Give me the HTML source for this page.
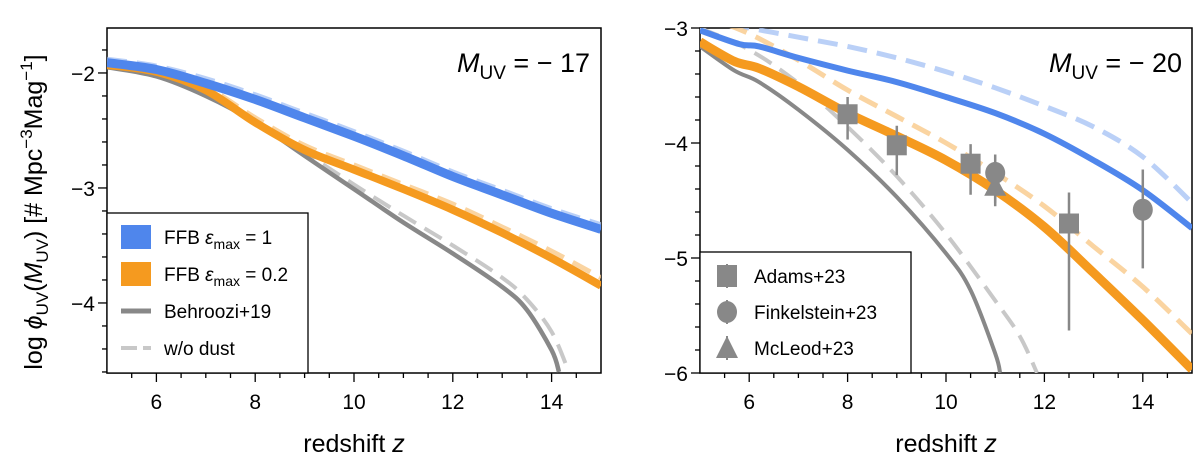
<!DOCTYPE html>
<html><head><meta charset="utf-8">
<style>
body{margin:0;background:#fff;}
svg{display:block;font-family:"Liberation Sans","DejaVu Sans",sans-serif;}
</style></head>
<body>
<svg id="fig" width="1200" height="464" viewBox="0 0 1200 464" xmlns="http://www.w3.org/2000/svg"></svg>
<script>
// ---- data ----
const zL = [5, 6, 7, 8, 9, 10, 11, 12, 13, 14, 15];
const leftBlue = [-1.91, -1.97, -2.09, -2.23, -2.39, -2.55, -2.72, -2.90, -3.06, -3.22, -3.36];
const leftBlueDash = [-1.88, -1.94, -2.05, -2.19, -2.35, -2.51, -2.68, -2.86, -3.02, -3.18, -3.32];
const leftOrange = [-1.93, -1.99, -2.15, -2.43, -2.67, -2.84, -3.01, -3.19, -3.39, -3.61, -3.85];
const leftOrangeDash = [-1.91, -1.97, -2.12, -2.39, -2.63, -2.80, -2.97, -3.14, -3.34, -3.55, -3.78];
const zLg = [5, 6, 7, 8, 9, 10, 11, 12, 13, 13.5, 14, 14.15];
const leftGray = [-1.95, -2.03, -2.20, -2.43, -2.72, -3.01, -3.30, -3.57, -3.86, -4.06, -4.41, -4.6];
const zLgd = [5, 6, 7, 8, 9, 10, 11, 12, 13, 13.5, 14, 14.35];
const leftGrayDash = [-1.94, -2.02, -2.18, -2.41, -2.69, -2.97, -3.24, -3.50, -3.78, -3.97, -4.25, -4.6];

const zR = [5, 5.8, 6.2, 7, 8, 9, 10, 11, 12, 13, 14, 15];
const rightBlue = [-3.02, -3.14, -3.16, -3.26, -3.37, -3.47, -3.60, -3.74, -3.92, -4.15, -4.41, -4.74];
const zRbd = [5, 6, 7, 8, 9, 10, 11, 12, 13, 14, 15];
const rightBlueDash = [-2.92, -3.0, -3.08, -3.16, -3.26, -3.38, -3.52, -3.68, -3.86, -4.12, -4.52];
const zRo = [5, 5.7, 6.2, 7, 8, 9, 10, 11, 12, 13, 14, 15];
const rightOrange = [-3.12, -3.29, -3.35, -3.51, -3.74, -3.94, -4.15, -4.41, -4.73, -5.13, -5.54, -5.97];
const zRod = [5, 6, 7, 8, 9, 10, 11, 12, 13, 14, 15];
const rightOrangeDash = [-2.88, -3.05, -3.28, -3.54, -3.77, -4.0, -4.26, -4.55, -4.9, -5.25, -5.66];
const zRg = [5, 5.7, 6.2, 7, 8, 9, 10, 10.5, 11, 11.1];
const rightGray = [-3.16, -3.37, -3.47, -3.71, -4.06, -4.47, -4.96, -5.28, -5.83, -6.0];
const zRgd = [5, 6, 7, 8, 9, 10, 11, 11.5, 11.85];
const rightGrayDash = [-3.0, -3.19, -3.48, -3.86, -4.29, -4.79, -5.37, -5.68, -6.0];

const adamsZ = [8, 9, 10.5, 12.5];
const adamsV = [-3.75, -4.02, -4.18, -4.70];
const adamsLo = [-3.97, -4.28, -4.45, -5.63];
const adamsHi = [-3.60, -3.85, -4.01, -4.43];
const finkZ = [11, 14];
const finkV = [-4.26, -4.58];
const finkLo = [-4.52, -5.09];
const finkHi = [-4.10, -4.23];
const mcleodZ = [11];
const mcleodV = [-4.38];
const mcleodLo = [-4.55];
const mcleodHi = [-4.20];

const xTicks = [6, 8, 10, 12, 14];
const leftYTicks = [-2, -3, -4];
const rightYTicks = [-3, -4, -5, -6];

// ---- helpers ----
const NS = "http://www.w3.org/2000/svg";
const svg = document.getElementById('fig');
function mk(tag, attrs, parent) {
  const e = document.createElementNS(NS, tag);
  for (const k in attrs) e.setAttribute(k, attrs[k]);
  (parent || svg).appendChild(e);
  return e;
}
function makeAxes(x0, x1, yTop, yBot, vTop, vBot) {
  return {
    x: z => x0 + (z - 5) / 10 * (x1 - x0),
    y: v => yTop + (vTop - v) / (vTop - vBot) * (yBot - yTop),
    x0, x1, yTop, yBot
  };
}
const L = makeAxes(107, 601, 28, 373, -1.609, -4.609);
const R = makeAxes(700, 1192, 28, 373, -3, -6);

function clip(id, ax) {
  const cp = mk('clipPath', {id: id});
  mk('rect', {x: ax.x0, y: ax.yTop, width: ax.x1 - ax.x0, height: ax.yBot - ax.yTop}, cp);
}
clip('clipL', L); clip('clipR', R);

function smoothPath(pts) {
  let d = 'M' + pts[0][0].toFixed(1) + ',' + pts[0][1].toFixed(1);
  for (let i = 0; i < pts.length - 1; i++) {
    const p0 = pts[Math.max(0, i - 1)], p1 = pts[i], p2 = pts[i + 1], p3 = pts[Math.min(pts.length - 1, i + 2)];
    const c1x = p1[0] + (p2[0] - p0[0]) / 6, c1y = p1[1] + (p2[1] - p0[1]) / 6;
    const c2x = p2[0] - (p3[0] - p1[0]) / 6, c2y = p2[1] - (p3[1] - p1[1]) / 6;
    d += ` C${c1x.toFixed(1)},${c1y.toFixed(1)} ${c2x.toFixed(1)},${c2y.toFixed(1)} ${p2[0].toFixed(1)},${p2[1].toFixed(1)}`;
  }
  return d;
}

function line(ax, xs, ys, color, w, dash, op, clipId, name) {
  const pts = xs.map((z, i) => [ax.x(z), ax.y(ys[i])]);
  const p = mk('path', {d: smoothPath(pts), fill: 'none', stroke: color, 'stroke-width': w, 'stroke-opacity': op,
    'stroke-linejoin': 'round', 'clip-path': 'url(#' + clipId + ')'});
  if (dash) p.setAttribute('stroke-dasharray', dash);
  
  
}

function frame(ax, yTicks, vTop, vBot, prefix) {
  const g = mk('g', {});
  
  
  mk('rect', {x: ax.x0, y: ax.yTop, width: ax.x1 - ax.x0, height: ax.yBot - ax.yTop, fill: 'none', stroke: '#000', 'stroke-width': 1.5}, g);
  for (let z = 5.5; z < 15; z += 0.5) {
    const major = Math.abs(z - Math.round(z)) < 1e-6 && Math.round(z) % 2 === 0;
    mk('line', {x1: ax.x(z), x2: ax.x(z), y1: ax.yBot, y2: ax.yBot + (major ? 9 : 5), stroke: '#000', 'stroke-width': 1.3}, g);
  }
  xTicks.forEach(t => {
    const tx = mk('text', {x: ax.x(t), y: ax.yBot + 36, 'text-anchor': 'middle', 'font-size': 21}, g);
    tx.textContent = t;
    
    
  });
  for (let v = Math.ceil(vBot * 5) / 5; v <= vTop + 1e-6; v += 0.2) {
    const major = Math.abs(v - Math.round(v)) < 1e-6;
    mk('line', {x1: ax.x0, x2: ax.x0 - (major ? 9 : 5), y1: ax.y(v), y2: ax.y(v), stroke: '#000', 'stroke-width': 1.3}, g);
  }
  yTicks.forEach(t => {
    const tx = mk('text', {x: ax.x0 - 12, y: ax.y(t) + 8, 'text-anchor': 'end', 'font-size': 21}, g);
    tx.textContent = '\u2212' + Math.abs(t);
    
    
  });
  const xl = mk('text', {x: (ax.x0 + ax.x1) / 2, y: 452, 'text-anchor': 'middle', 'font-size': 25}, g);
  xl.innerHTML = 'redshift <tspan font-style="italic">z</tspan>';
  
  
}

const BLUE = '#4f86ec', ORANGE = '#f59a1f', GRAY = '#888888', LGRAY = '#c8c8c8';

// ---- left panel ----
frame(L, leftYTicks, -1.609, -4.609, 'left');
line(L, zL, leftBlueDash, '#a9c4f5', 5, '20,10', 0.8, 'clipL', 'left-ffb-1-nodust-line');
line(L, zL, leftOrangeDash, '#f9c98a', 5, '20,10', 0.8, 'clipL', 'left-ffb-02-nodust-line');
line(L, zLgd, leftGrayDash, LGRAY, 4, '20,10', 1, 'clipL', 'left-behroozi-nodust-line');
line(L, zLg, leftGray, GRAY, 4.5, null, 1, 'clipL', 'left-behroozi-line');
line(L, zL, leftOrange, ORANGE, 8, null, 1, 'clipL', 'left-ffb-02-line');
line(L, zL, leftBlue, BLUE, 9, null, 1, 'clipL', 'left-ffb-1-line');

const ylab = mk('text', {x: 0, y: 0, transform: 'translate(42,212) rotate(-90)', 'text-anchor': 'middle', 'font-size': 25});
ylab.innerHTML = 'log <tspan font-style="italic">\u03d5</tspan><tspan font-size="17" dy="6">UV</tspan><tspan dy="-6">(</tspan><tspan font-style="italic">M</tspan><tspan font-size="17" dy="6">UV</tspan><tspan dy="-6">)  [# Mpc</tspan><tspan font-size="17" dy="-10">\u22123</tspan><tspan dy="10">Mag</tspan><tspan font-size="17" dy="-10">\u22121</tspan><tspan dy="10">]</tspan>';



function annot(x, txt, name) {
  const t = mk('text', {x: x, y: 72, 'text-anchor': 'end', 'font-size': 27});
  t.innerHTML = '<tspan font-style="italic">M</tspan><tspan font-size="19" dy="7">UV</tspan><tspan dy="-7"> = \u2212 ' + txt + '</tspan>';
  
  
}
annot(590, '17', 'left-muv-annotation');
annot(1182, '20', 'right-muv-annotation');

// left legend
const lg = mk('g', {});


mk('rect', {x: 107, y: 213, width: 201, height: 160, fill: '#fff', stroke: '#000', 'stroke-width': 1.3}, lg);
const legItems = [
  {y: 237, kind: 'patch', c: BLUE, html: 'FFB <tspan font-style="italic">\u03b5</tspan><tspan font-size="14" dy="5">max</tspan><tspan dy="-5"> = 1</tspan>', n: 'legend-entry-ffb-1'},
  {y: 274, kind: 'patch', c: ORANGE, html: 'FFB <tspan font-style="italic">\u03b5</tspan><tspan font-size="14" dy="5">max</tspan><tspan dy="-5"> = 0.2</tspan>', n: 'legend-entry-ffb-02'},
  {y: 311, kind: 'line', c: GRAY, html: 'Behroozi+19', n: 'legend-entry-behroozi'},
  {y: 348, kind: 'dash', c: LGRAY, html: 'w/o dust', n: 'legend-entry-no-dust'}
];
legItems.forEach(it => {
  const g = mk('g', {}, lg);
  
  
  if (it.kind === 'patch') mk('rect', {x: 121, y: it.y - 12, width: 30, height: 24, fill: it.c}, g);
  else if (it.kind === 'line') mk('line', {x1: 121, x2: 151, y1: it.y, y2: it.y, stroke: it.c, 'stroke-width': 5}, g);
  else mk('line', {x1: 121, x2: 151, y1: it.y, y2: it.y, stroke: it.c, 'stroke-width': 4, 'stroke-dasharray': '16,6'}, g);
  const t = mk('text', {x: 164, y: it.y + 7, 'font-size': 19}, g);
  t.innerHTML = it.html;
});

// ---- right panel ----
frame(R, rightYTicks, -3, -6, 'right');
line(R, zRbd, rightBlueDash, '#a9c4f5', 5, '20,10', 0.8, 'clipR', 'right-ffb-1-nodust-line');
line(R, zRod, rightOrangeDash, '#f9c98a', 5, '20,10', 0.8, 'clipR', 'right-ffb-02-nodust-line');
line(R, zRgd, rightGrayDash, LGRAY, 4, '20,10', 1, 'clipR', 'right-behroozi-nodust-line');
line(R, zRg, rightGray, GRAY, 4, null, 1, 'clipR', 'right-behroozi-line');
line(R, zRo, rightOrange, ORANGE, 9, null, 1, 'clipR', 'right-ffb-02-line');
line(R, zR, rightBlue, BLUE, 6, null, 1, 'clipR', 'right-ffb-1-line');

function errbars(zs, lo, hi, name) {
  zs.forEach((z, i) => {
    const l = mk('line', {x1: R.x(z), x2: R.x(z), y1: R.y(lo[i]), y2: R.y(hi[i]), stroke: GRAY, 'stroke-width': 2.5});
    
    
  });
}
errbars(adamsZ, adamsLo, adamsHi, 'adams');
errbars(finkZ, finkLo, finkHi, 'finkelstein');
errbars(mcleodZ, mcleodLo, mcleodHi, 'mcleod');
adamsZ.forEach((z, i) => {
  const r = mk('rect', {x: R.x(z) - 10, y: R.y(adamsV[i]) - 10, width: 20, height: 20, fill: GRAY});
  
  
});
finkZ.forEach((z, i) => {
  const c = mk('ellipse', {cx: R.x(z), cy: R.y(finkV[i]), rx: 10, ry: 11, fill: GRAY});
  
  
});
mcleodZ.forEach((z, i) => {
  const x = R.x(z), y = R.y(mcleodV[i]);
  const p = mk('polygon', {points: `${x},${y - 12} ${x - 11},${y + 9} ${x + 11},${y + 9}`, fill: GRAY});
  
  
});

// right legend
const rg = mk('g', {});


mk('rect', {x: 700, y: 252, width: 211, height: 121, fill: '#fff', stroke: '#000', 'stroke-width': 1.3}, rg);
const rItems = [{y: 276, k: 'sq', t: 'Adams+23', n: 'legend-entry-adams'},
  {y: 312, k: 'ci', t: 'Finkelstein+23', n: 'legend-entry-finkelstein'},
  {y: 348, k: 'tr', t: 'McLeod+23', n: 'legend-entry-mcleod'}];
rItems.forEach(it => {
  const g = mk('g', {}, rg);
  
  
  const cx = 727;
  mk('line', {x1: cx, x2: cx, y1: it.y - 12, y2: it.y + 12, stroke: GRAY, 'stroke-width': 2}, g);
  if (it.k === 'sq') mk('rect', {x: cx - 10, y: it.y - 11, width: 20, height: 22, fill: GRAY}, g);
  else if (it.k === 'ci') mk('ellipse', {cx: cx, cy: it.y, rx: 10, ry: 11, fill: GRAY}, g);
  else mk('polygon', {points: `${cx},${it.y - 12} ${cx - 11},${it.y + 10} ${cx + 11},${it.y + 10}`, fill: GRAY}, g);
  const t = mk('text', {x: 754, y: it.y + 7, 'font-size': 19}, g);
  t.textContent = it.t;
});
</script>
</body></html>
